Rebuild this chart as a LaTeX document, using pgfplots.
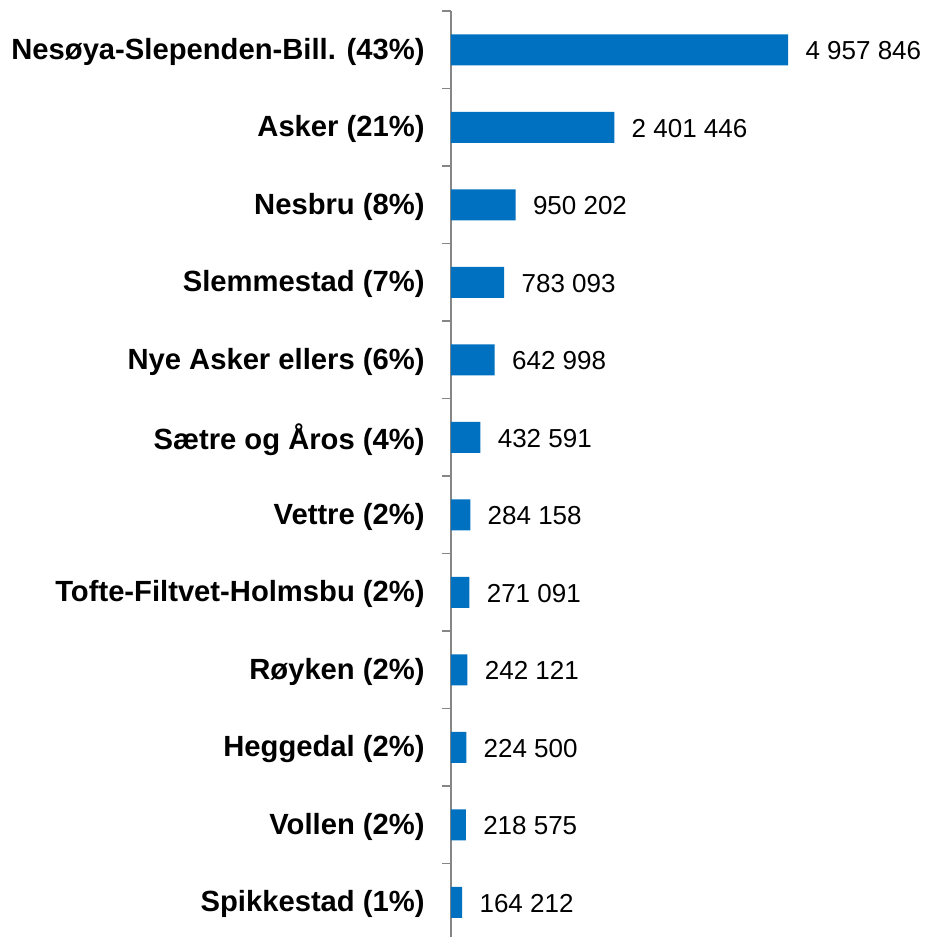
\documentclass[border=0pt]{standalone}
\usepackage{pgfplots}
\pgfplotsset{compat=1.18}
\usepackage{fontspec}
\setmainfont{Liberation Sans}
\definecolor{barblue}{HTML}{0070C0}
\definecolor{axisgray}{HTML}{868686}
\begin{document}
\fontsize{12.5bp}{15bp}\selectfont
\begin{tikzpicture}
\begin{axis}[
  at={(0,0)}, anchor=south west,
  scale only axis, width=238bp, height=465bp,
  xbar, bar width=15.5bp,
  xmin=0, xmax=7000000,
  ymin=-0.5, ymax=11.5, y dir=reverse,
  axis x line=none,
  axis y line*=left,
  y axis line style={axisgray, line width=0.8bp, -},
  ytick={0,...,11},
  yticklabels={Nesøya-Slependen-Bill. (43\%), Asker (21\%), Nesbru (8\%), Slemmestad (7\%),
    Nye Asker ellers (6\%), Sætre og Åros (4\%), Vettre (2\%), Tofte-Filtvet-Holmsbu (2\%),
    Røyken (2\%), Heggedal (2\%), Vollen (2\%), Spikkestad (1\%)},
  major tick length=0pt,
  minor ytick={-0.5,0.5,...,11.5},
  minor tick length=4.5bp,
  tick align=outside,
  every minor tick/.style={axisgray, line width=0.8bp},
  yticklabel style={font=\fontsize{14.6bp}{17bp}\selectfont\bfseries, inner sep=0pt, xshift=-13bp, yshift=-1bp},
  nodes near coords,
  point meta=explicit symbolic,
  every node near coord/.style={font=\fontsize{13bp}{15bp}\selectfont, anchor=west, inner sep=0pt, xshift=8.5bp, yshift=-0.5bp, black},
  clip=false,
]
\addplot[fill=barblue, draw=none] coordinates {
  (4957846,0) [4 957 846]
  (2401446,1) [2 401 446]
  (950202,2) [950 202]
  (783093,3) [783 093]
  (642998,4) [642 998]
  (432591,5) [432 591]
  (284158,6) [284 158]
  (271091,7) [271 091]
  (242121,8) [242 121]
  (224500,9) [224 500]
  (218575,10) [218 575]
  (164212,11) [164 212]
};
\end{axis}
\pgfresetboundingbox
\path (-225.5bp,2bp) rectangle (237.5bp,470.5bp);
\end{tikzpicture}
\end{document}
